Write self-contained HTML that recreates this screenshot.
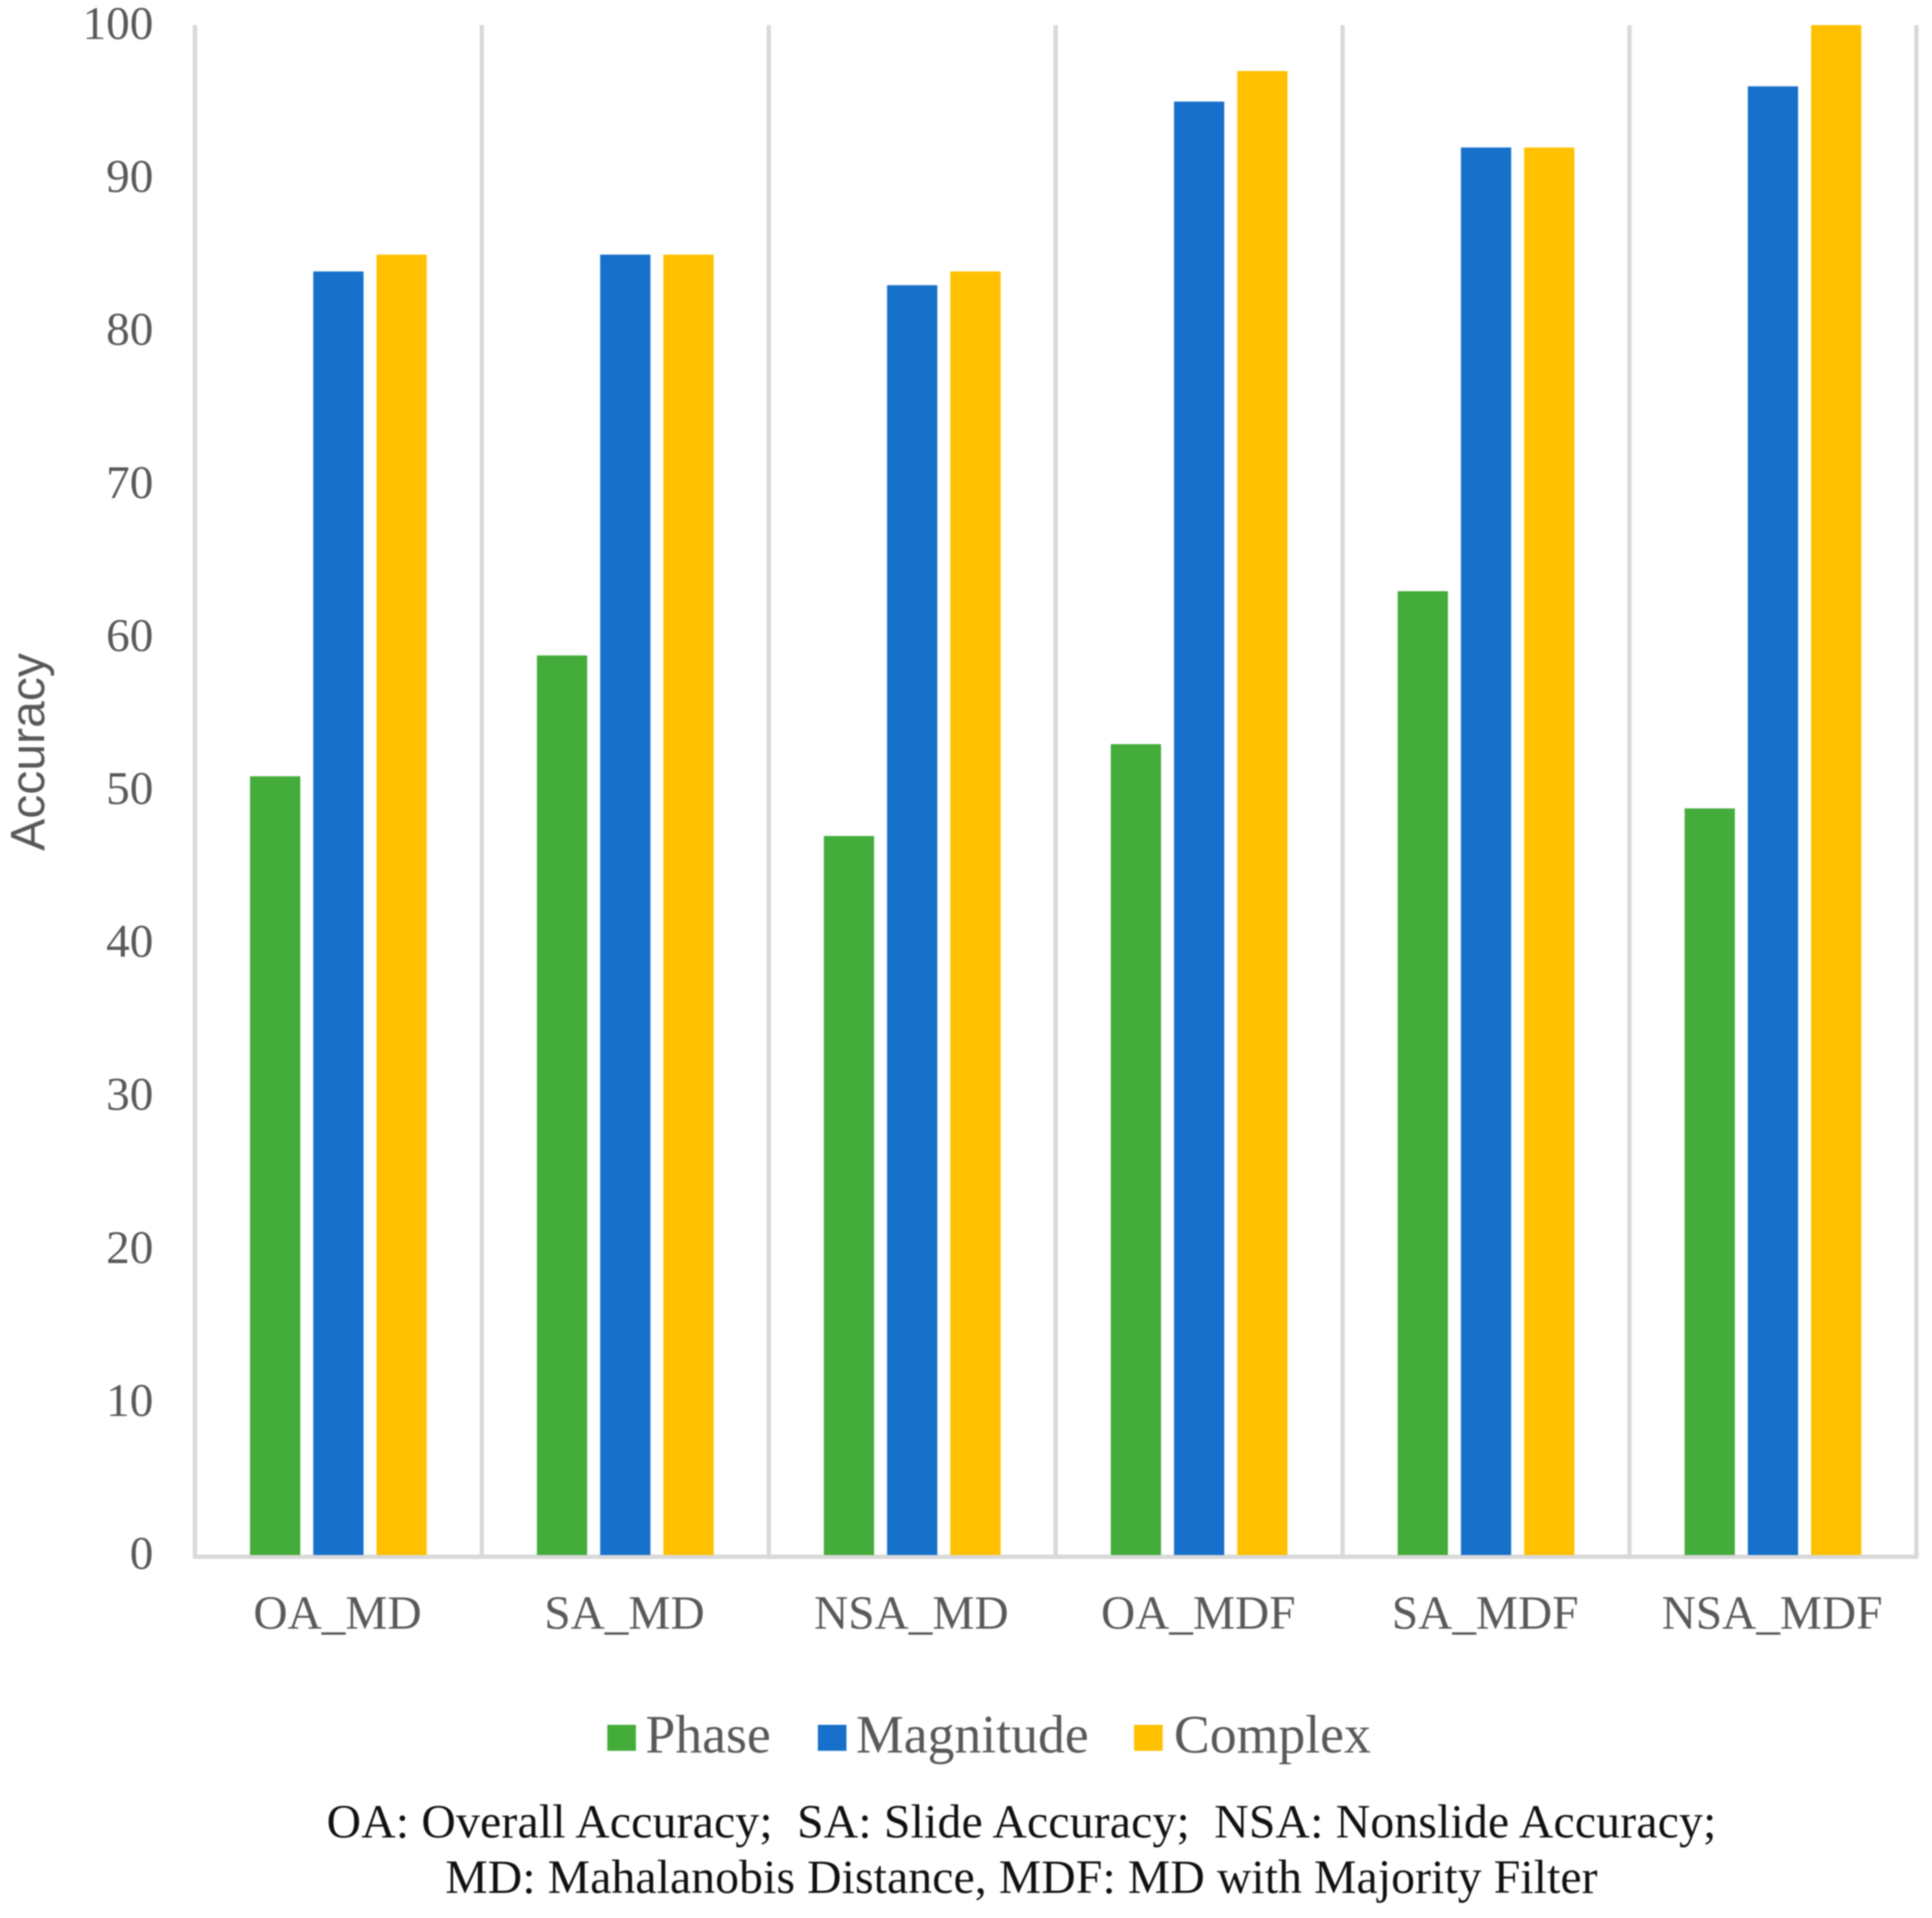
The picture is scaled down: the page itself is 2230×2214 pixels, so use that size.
<!DOCTYPE html>
<html lang="en">
<head>
<meta charset="utf-8">
<title>Accuracy by method</title>
<style>
html,body{margin:0;padding:0;background:#fff;}
body{width:2230px;height:2214px;overflow:hidden;}
svg{display:block;filter:blur(.8px);}
text{font-family:"Liberation Serif",serif;}
</style>
</head>
<body>
<svg id="chart" xmlns="http://www.w3.org/2000/svg" width="2230" height="2214" viewBox="0 0 2230 2214">
  <rect x="0" y="0" width="2230" height="2214" fill="#ffffff"/>
  <g id="grid"></g>
  <g id="bars"></g>
  <g id="yticks"></g>
  <g id="xticks"></g>
  <text transform="translate(51 868) rotate(-90)" text-anchor="middle" fill="#595959" font-size="55.5" style="font-family:'Liberation Sans',sans-serif">Accuracy</text>
  <g id="legend"></g>
  <text x="1179" y="2121" text-anchor="middle" fill="#111111" font-size="55" textLength="1604" lengthAdjust="spacing" xml:space="preserve">OA: Overall Accuracy;  SA: Slide Accuracy;  NSA: Nonslide Accuracy;</text>
  <text x="1179" y="2185" text-anchor="middle" fill="#111111" font-size="55" textLength="1330" lengthAdjust="spacing">MD: Mahalanobis Distance, MDF: MD with Majority Filter</text>
</svg>
<script>
const categories = ["OA_MD", "SA_MD", "NSA_MD", "OA_MDF", "SA_MDF", "NSA_MDF"];
const phaseValues = [50.9, 58.8, 47, 53, 63, 48.8];
const magnitudeValues = [83.9, 85, 83, 95, 92, 96];
const complexValues = [85, 85, 83.9, 97, 92, 100];
const tickLabels = [0, 10, 20, 30, 40, 50, 60, 70, 80, 90, 100];
const seriesNames = ["Phase", "Magnitude", "Complex"];
const seriesColors = ["#43ac3a", "#1770c9", "#ffc000"];

const NS = "http://www.w3.org/2000/svg";
const plotLeft = 225, plotRight = 2212, plotTop = 29, plotBottom = 1795, axisY = 1797;
const barWidth = 58, barStep = 73;
const allSeries = [phaseValues, magnitudeValues, complexValues];

function yScale(v) { return plotBottom - (v / 100) * (plotBottom - plotTop); }
function bandWidth() { return (plotRight - plotLeft) / categories.length; }
function xCenter(i) { return plotLeft + (i + 0.5) * bandWidth(); }
function make(tag, attrs, parent) {
  const el = document.createElementNS(NS, tag);
  for (const k in attrs) el.setAttribute(k, attrs[k]);
  parent.appendChild(el);
  return el;
}

const gridG = document.getElementById("grid");
for (let i = 0; i <= categories.length; i++) {
  const x = plotLeft + i * bandWidth();
  const line = make("line", {x1: x, x2: x, y1: plotTop, y2: axisY, stroke: "#d9d9d9", "stroke-width": 5}, gridG);
  
  
}
const axisLine = make("line", {x1: plotLeft - 2, x2: plotRight + 2, y1: axisY, y2: axisY, stroke: "#d9d9d9", "stroke-width": 5}, gridG);



const barsG = document.getElementById("bars");
allSeries.forEach(function (values, s) {
  values.forEach(function (v, i) {
    const top = yScale(v);
    const bar = make("rect", {
      x: xCenter(i) + (s - 1) * barStep - barWidth / 2,
      y: top,
      width: barWidth,
      height: plotBottom - top,
      fill: seriesColors[s]
    }, barsG);
    
    
  });
});

const yG = document.getElementById("yticks");
tickLabels.forEach(function (t) {
  const label = make("text", {x: 177, y: yScale(t) + 16, "text-anchor": "end", fill: "#595959", "font-size": 54.5}, yG);
  label.textContent = t;
  
  
});

const xG = document.getElementById("xticks");
categories.forEach(function (c, i) {
  const label = make("text", {x: xCenter(i) - 1, y: 1880, "text-anchor": "middle", fill: "#595959", "font-size": 54.6}, xG);
  label.textContent = c;
  
  
});

const legendG = document.getElementById("legend");
const legendSwatchX = [701, 944, 1309];
const legendTextX = [745, 988, 1355];
seriesNames.forEach(function (name, s) {
  const swatch = make("rect", {x: legendSwatchX[s], y: 1991, width: 33, height: 30, fill: seriesColors[s]}, legendG);
  
  
  const label = make("text", {x: legendTextX[s], y: 2023, fill: "#595959", "font-size": 62}, legendG);
  label.textContent = name;
  
  
});
</script>
</body>
</html>
